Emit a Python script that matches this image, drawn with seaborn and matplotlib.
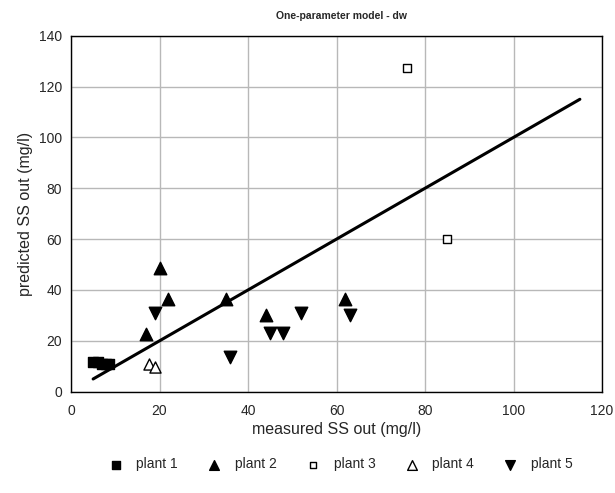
import matplotlib
matplotlib.use("Agg")
import matplotlib.pyplot as plt
import seaborn as sns
import pandas as pd
from matplotlib.ticker import MultipleLocator

# data
p1_x = [5, 6, 7, 8, 8.5]
p1_y = [11.5, 11.5, 11, 11, 11]
p2_x = [17, 20, 22, 35, 44, 62]
p2_y = [22.5, 48.5, 36.5, 36.5, 30, 36.5]
p3_x = [76, 85]
p3_y = [127.2, 60]
p4_x = [17.7, 19]
p4_y = [11, 9.8]
p5_x = [19, 36, 45, 48, 52, 63]
p5_y = [30.8, 13.5, 23.2, 23.2, 30.8, 30.2]
line_x = [5, 115]
line_y = [5, 115]

sns.set_style("white")
plt.rcParams['font.family'] = ['Liberation Sans', 'DejaVu Sans']

fig = plt.figure(figsize=(6.15, 4.93), dpi=100)
ax = fig.add_axes([71/615, 1-391.7/493, (602-71)/615, (391.7-35.7)/493])

sns.lineplot(x=line_x, y=line_y, ax=ax, color='black', lw=2.2, zorder=3, legend=False)

series = [
    ("plant 1", p1_x, p1_y, 's', 'black', 7, 5.5),
    ("plant 2", p2_x, p2_y, '^', 'black', 9, 7),
    ("plant 3", p3_x, p3_y, 's', 'white', 5.5, 5),
    ("plant 4", p4_x, p4_y, '^', 'white', 8, 7),
    ("plant 5", p5_x, p5_y, 'v', 'black', 9, 7),
]
leg_sizes = []
for name, xs, ys, m, fc, ms, lms in series:
    sns.scatterplot(x=xs, y=ys, ax=ax, marker=m, s=ms**2, color=fc,
                    edgecolor='black', linewidth=1.0, label=name, zorder=4)
    leg_sizes.append(lms**2)

ax.set_xlim(0, 120)
ax.set_ylim(0, 140)
ax.xaxis.set_major_locator(MultipleLocator(20))
ax.yaxis.set_major_locator(MultipleLocator(20))
ax.xaxis.set_minor_locator(MultipleLocator(10))
ax.yaxis.set_minor_locator(MultipleLocator(10))
ax.grid(True, which='major', color='#b8b8b8', lw=1.0)
ax.set_axisbelow(True)
for s in ax.spines.values():
    s.set_color('black')
    s.set_linewidth(1.0)
ax.tick_params(which='both', direction='inout', color='#808080', labelsize=10)
ax.tick_params(which='major', length=6)
ax.tick_params(which='minor', length=4)
ax.tick_params(axis='x', pad=6)

ax.set_xlabel("measured SS out (mg/l)", fontsize=11.5, labelpad=3)
ax.set_ylabel("predicted SS out (mg/l)", fontsize=11.5, labelpad=4)
fig.text(0.556, 0.977, "One-parameter model - dw", ha='center', va='top',
         fontsize=7.5, fontweight='bold')

leg = ax.legend(loc='center', bbox_to_anchor=(0.553, 0.058),
                bbox_transform=fig.transFigure, ncol=5, frameon=False,
                fontsize=10, handletextpad=0.9, columnspacing=2.0,
                handlelength=1.2)
for h, sz in zip(leg.legend_handles, leg_sizes):
    try:
        h.set_sizes([sz])
    except Exception:
        pass

fig.savefig("out.png", dpi=100)
